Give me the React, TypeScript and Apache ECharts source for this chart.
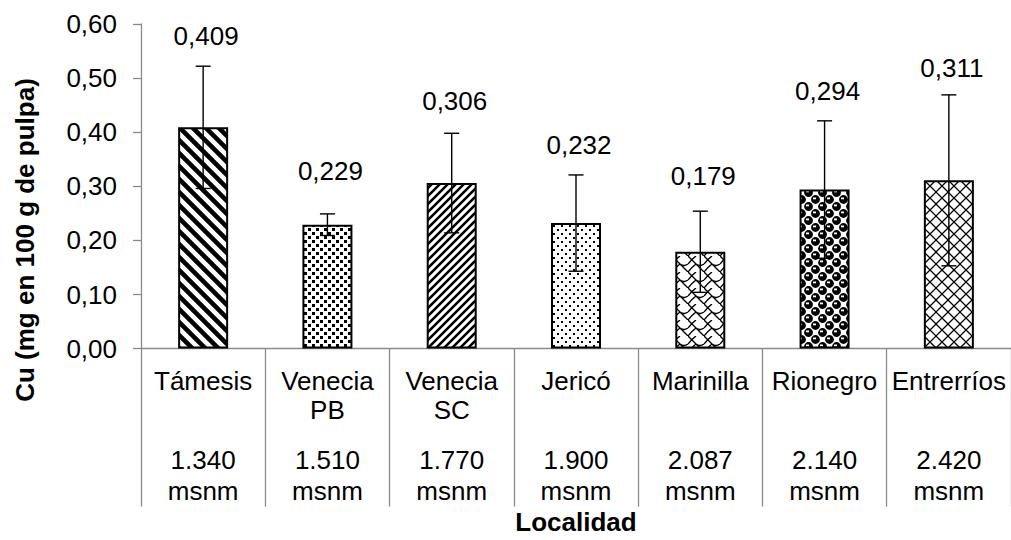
import React, { useEffect, useRef } from "react";
import * as echarts from "echarts";

// ---- data ----
const categories = ["Támesis", "Venecia\nPB", "Venecia\nSC", "Jericó", "Marinilla", "Rionegro", "Entrerríos"];
const altitudes = ["1.340", "1.510", "1.770", "1.900", "2.087", "2.140", "2.420"];
const altitudeUnit = "msnm";
const means = [0.409, 0.229, 0.306, 0.232, 0.179, 0.294, 0.311];
const errors = [0.113, 0.02, 0.092, 0.089, 0.075, 0.127, 0.158];
const yAxisTitle = "Cu (mg en 100 g de pulpa)";
const xAxisTitle = "Localidad";

// ---- styles ----
const FONT = "'Liberation Sans', Arial, Helvetica, sans-serif";
const FS = 26;
const labelLift = [30, 43, 32, 30, 35, 30, 27];
const AXIS_GRAY = "#8a8a8a";

type Draw = (ctx: CanvasRenderingContext2D, w: number, h: number) => void;

function tile(w: number, h: number, draw: Draw) {
  const c = document.createElement("canvas");
  c.width = w;
  c.height = h;
  const ctx = c.getContext("2d") as CanvasRenderingContext2D;
  ctx.fillStyle = "#fff";
  ctx.fillRect(0, 0, w, h);
  ctx.fillStyle = "#000";
  ctx.strokeStyle = "#000";
  draw(ctx, w, h);
  return { image: c, repeat: "repeat", imageWidth: w, imageHeight: h } as any;
}

function diagLines(ctx: CanvasRenderingContext2D, s: number, lw: number, down: boolean) {
  ctx.lineWidth = lw;
  ctx.beginPath();
  for (let k = -1; k <= 1; k++) {
    if (down) {
      ctx.moveTo(k * s - 2, -2);
      ctx.lineTo(k * s + s + 2, s + 2);
    } else {
      ctx.moveTo(k * s - 2, s + 2);
      ctx.lineTo(k * s + s + 2, -2);
    }
  }
  ctx.stroke();
}

function makePatterns() {
  const p1 = tile(13, 13, (ctx, w) => diagLines(ctx, w, 4.6, true));
  const p2 = tile(8, 8, (ctx) => {
    ctx.fillRect(0, 0, 3, 3);
    ctx.fillRect(4, 4, 3, 3);
  });
  const p3 = tile(8, 8, (ctx, w) => diagLines(ctx, w, 2.6, false));
  const p4 = tile(8, 8, (ctx) => {
    ctx.fillRect(1, 1, 2, 2);
    ctx.fillRect(5, 5, 2, 2);
  });
  const p5 = tile(16, 16, (ctx) => {
    ctx.lineWidth = 1.4;
    ctx.beginPath();
    ctx.moveTo(0, 0);
    ctx.lineTo(8, 8);
    ctx.quadraticCurveTo(12, 11, 16, 8);
    ctx.moveTo(8, 8);
    ctx.lineTo(16, 16);
    ctx.moveTo(0, 8);
    ctx.quadraticCurveTo(4, 3, 8, 0);
    ctx.moveTo(0, 16);
    ctx.quadraticCurveTo(4, 11, 8, 8);
    ctx.stroke();
  });
  const p6 = tile(14, 14, (ctx) => {
    const centers: number[][] = [];
    for (const [bx, by] of [[3.5, 3.5], [10.5, 10.5]]) {
      for (const dx of [-14, 0, 14]) for (const dy of [-14, 0, 14]) centers.push([bx + dx, by + dy]);
    }
    for (const [cx, cy] of centers) {
      ctx.fillStyle = "#000";
      ctx.beginPath();
      ctx.arc(cx, cy, 4.4, 0, Math.PI * 2);
      ctx.fill();
      ctx.fillStyle = "#fff";
      ctx.fillRect(cx - 2.5, cy - 2, 3, 1.8);
    }
  });
  const p7 = tile(12, 12, (ctx, w) => {
    diagLines(ctx, w, 1.3, true);
    diagLines(ctx, w, 1.3, false);
  });
  return [p1, p2, p3, p4, p5, p6, p7];
}

const fmt = (v: number, d: number) => v.toFixed(d).replace(".", ",");

export default function App() {
  const ref = useRef<HTMLDivElement>(null);

  useEffect(() => {
    if (!ref.current) return;
    const chart = echarts.init(ref.current, undefined, { renderer: "svg" });
    const patterns = makePatterns();

    const barData = means.map((v, i) => ({
      value: v,
      itemStyle: { color: patterns[i] },
    }));
    const errData = means.map((v, i) => [i, v, errors[i], labelLift[i]]);

    const option: any = {
      animation: false,
      textStyle: { fontFamily: FONT, color: "#000" },
      grid: { left: 141, top: 24, right: -3, bottom: 190, containLabel: false },
      xAxis: {
        type: "category",
        data: categories,
        axisLine: { show: true, lineStyle: { color: AXIS_GRAY, width: 1.3 } },
        axisTick: { show: true, interval: 0, length: 158, lineStyle: { color: AXIS_GRAY, width: 1.3 } },
        axisLabel: {
          interval: 0,
          margin: 18,
          color: "#000",
          fontFamily: FONT,
          formatter: (value: string, index: number) => {
            const lines = value.split("\n");
            while (lines.length < 2) lines.push(" ");
            return (
              lines.map((l) => `{n|${l}}`).join("\n") +
              `\n{g| }\n{a|${altitudes[index]}}\n{a|${altitudeUnit}}`
            );
          },
          rich: {
            n: { fontSize: FS, lineHeight: 29, color: "#000", fontFamily: FONT },
            g: { fontSize: 10, lineHeight: 20 },
            a: { fontSize: FS, lineHeight: 31, color: "#000", fontFamily: FONT },
          },
        },
        name: xAxisTitle,
        nameLocation: "middle",
        nameGap: 156,
        nameTextStyle: { fontSize: FS, fontWeight: "bold", color: "#000", fontFamily: FONT },
      },
      yAxis: {
        type: "value",
        min: 0,
        max: 0.6,
        interval: 0.1,
        axisLine: { show: true, lineStyle: { color: AXIS_GRAY, width: 1.3 } },
        axisTick: { show: true, length: 8, lineStyle: { color: AXIS_GRAY, width: 1.3 } },
        splitLine: { show: false },
        axisLabel: {
          fontSize: FS,
          color: "#000",
          margin: 24,
          fontFamily: FONT,
          formatter: (v: number) => fmt(v, 2),
        },
      },
      graphic: [
        {
          type: "text",
          x: 25,
          y: 240,
          rotation: Math.PI / 2,
          style: {
            text: yAxisTitle,
            font: `bold ${FS}px ${FONT}`,
            fill: "#000",
            align: "center",
            verticalAlign: "middle",
          },
        },
      ],
      series: [
        {
          type: "bar",
          data: barData,
          barWidth: 50,
          itemStyle: { borderColor: "#000", borderWidth: 2 },
          z: 2,
        },
        {
          type: "custom",
          data: errData,
          z: 5,
          renderItem: (params: any, api: any) => {
            const i = api.value(0);
            const v = api.value(1);
            const e = api.value(2);
            const lift = api.value(3);
            const top = api.coord([i, v + e]);
            const bot = api.coord([i, v - e]);
            const x = top[0];
            const cap = 7.5;
            const ls = { stroke: "#000", lineWidth: 1.4 };
            return {
              type: "group",
              children: [
                { type: "line", shape: { x1: x, y1: top[1], x2: x, y2: bot[1] }, style: ls },
                { type: "line", shape: { x1: x - cap, y1: top[1], x2: x + cap, y2: top[1] }, style: ls },
                { type: "line", shape: { x1: x - cap, y1: bot[1], x2: x + cap, y2: bot[1] }, style: ls },
                {
                  type: "text",
                  x: x + 3,
                  y: top[1] - lift,
                  style: {
                    text: fmt(v, 3),
                    font: `${FS}px ${FONT}`,
                    fill: "#000",
                    align: "center",
                    verticalAlign: "middle",
                  },
                },
              ],
            };
          },
        },
      ],
    };

    chart.setOption(option);
    return () => chart.dispose();
  }, []);

  return (
    <div
      ref={ref}
      style={{ position: "absolute", left: 0, top: 0, width: 1011, height: 540, background: "#fff" }}
    />
  );
}
